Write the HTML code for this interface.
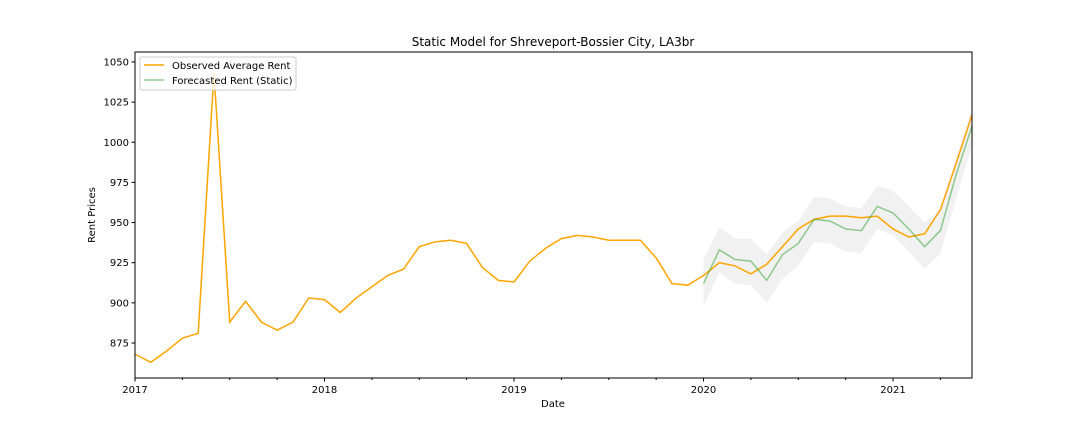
<!DOCTYPE html>
<html><head><meta charset="utf-8"><style>
body{margin:0;background:#fff}
svg text{font-family:"DejaVu Sans","Liberation Sans",sans-serif;fill:#000}
</style></head><body>
<svg id="chart" width="1080" height="432" xmlns="http://www.w3.org/2000/svg">
<text x="553" y="46" font-size="12" text-anchor="middle">Static Model for Shreveport-Bossier City, LA3br</text>
<g id="plot"></g>
<text x="553" y="407" font-size="10" text-anchor="middle">Date</text>
<text transform="translate(95,215) rotate(-90)" font-size="10" text-anchor="middle">Rent Prices</text>
</svg>
<script>
const observed=[868,863,870,878,881,1043,888,901,888,883,888,903,902,894,903,910,917,921,935,938,939,937,922,914,913,926,934,940,942,941,939,939,939,928,912,911,917,925,923,918,924,935,946,952,954,954,953,954,946,941,943,958,987,1017];
const forecast=[912,933,927,926,914,930,937,952,951,946,945,960,956,946,935,945,980,1010];
const upper=[927,947,940,940,930,944,951,966,965,960,959,973,970,960,950,958,990,1022];
const lower=[898,919,912,911,900,915,923,938,937,932,931,946,942,932,921,931,965,998];
const forecastStart=36;
const yTicks=[875,900,925,950,975,1000,1025,1050];
const xTickLabels=["2017","2018","2019","2020","2021"];
const L=135,R=972,T=52,B=378;
const yMin=853.2,yMax=1056.2,nMonths=53;
const X=i=>L+i*(R-L)/nMonths;
const Y=v=>B-(v-yMin)/(yMax-yMin)*(B-T);
const NS="http://www.w3.org/2000/svg";
const g=document.getElementById('plot');
function mk(t,a){const e=document.createElementNS(NS,t);for(const k in a)e.setAttribute(k,a[k]);g.appendChild(e);return e;}
// band
let pts=upper.map((v,i)=>X(forecastStart+i)+','+Y(v)).concat(lower.map((v,i)=>[i,v]).reverse().map(([i,v])=>X(forecastStart+i)+','+Y(v)));
let band=mk('polygon',{points:pts.join(' '),fill:'#000','fill-opacity':'0.055'});


let ob=mk('polyline',{points:observed.map((v,i)=>X(i)+','+Y(v)).join(' '),fill:'none',stroke:'#ffa500','stroke-width':'1.5'});


let fc=mk('polyline',{points:forecast.map((v,i)=>X(forecastStart+i)+','+Y(v)).join(' '),fill:'none',stroke:'#2ca02c','stroke-opacity':'0.5','stroke-width':'1.5'});


let fr=mk('rect',{x:L,y:T,width:R-L,height:B-T,fill:'none',stroke:'#000','stroke-width':'1'});


yTicks.forEach(v=>{
  mk('line',{x1:L-3.5,x2:L,y1:Y(v),y2:Y(v),stroke:'#000'});
  const t=mk('text',{x:L-6,y:Y(v)+3.5,'font-size':'10','text-anchor':'end'});t.textContent=v;
  
  
});
for(let m=0;m<=nMonths;m+=3){
  const major=m%12===0;
  mk('line',{x1:X(m),x2:X(m),y1:B,y2:B+(major?3.5:2),stroke:'#000'});
  if(major){const t=mk('text',{x:X(m),y:B+15,'font-size':'10','text-anchor':'middle'});t.textContent=xTickLabels[m/12];
  
  }
}
// legend
let lg=mk('rect',{x:140,y:57,width:156,height:33,rx:2,fill:'#fff','fill-opacity':'0.8',stroke:'#ccc'});


mk('line',{x1:144,x2:164,y1:65,y2:65,stroke:'#ffa500','stroke-width':'1.5'});
mk('line',{x1:144,x2:164,y1:80,y2:80,stroke:'#2ca02c','stroke-opacity':'0.5','stroke-width':'1.5'});
let t1=mk('text',{x:172,y:69,'font-size':'10'});t1.textContent='Observed Average Rent';


let t2=mk('text',{x:172,y:84,'font-size':'10'});t2.textContent='Forecasted Rent (Static)';


</script>
</body></html>
